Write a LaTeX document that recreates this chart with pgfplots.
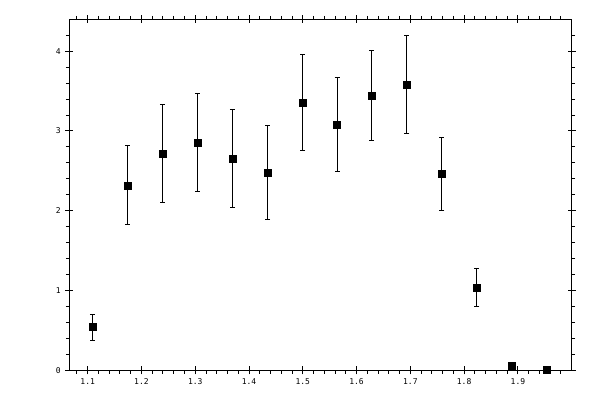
\documentclass[border=0pt]{standalone}
\usepackage{fontspec}
\setmainfont{DejaVu Sans Mono}
\usepackage{pgfplots}
\pgfplotsset{compat=1.18}
\pgfplotstableread{
x y ep em
1.1086 0.540 0.154 0.167
1.1738 2.317 0.502 0.489
1.2389 2.719 0.615 0.615
1.3041 2.857 0.615 0.611
1.3693 2.656 0.615 0.615
1.4345 2.481 0.593 0.586
1.4996 3.359 0.602 0.599
1.5640 3.083 0.589 0.590
1.6281 3.447 0.564 0.561
1.6933 3.585 0.606 0.615
1.7585 2.468 0.452 0.464
1.8236 1.038 0.238 0.239
1.8888 0.059 0 0
1.9540 0.004 0 0
}\datatab
\pgfplotsset{
  common/.style={
    at={(51.975pt,22.275pt)}, anchor=south west,
    scale only axis, width=376.8pt, height=263.25pt,
    xmin=1.0658, xmax=2.0, ymin=0, ymax=4.4,
    xtick={1.1,1.2,1.3,1.4,1.5,1.6,1.7,1.8,1.9},
    ytick={0,1,2,3,4},
    tick style={black, line width=0.75pt},
    axis line style={black, line width=0.75pt},
    major tick length=3pt,
    /pgf/number format/assume math mode=true,
    tick label style={font=\fontsize{6}{6}\selectfont},
    clip=false,
  }
}
\begin{document}
\begin{tikzpicture}
\path[use as bounding box] (0,0) rectangle (450pt,300pt);
\begin{axis}[common,
    tick align=outside,
    minor tick length=2.5pt,
    minor xtick={1.08,1.12,1.14,1.16,1.18,1.22,1.24,1.26,1.28,1.32,1.34,1.36,1.38,1.42,1.44,1.46,1.48,1.52,1.54,1.56,1.58,1.62,1.64,1.66,1.68,1.72,1.74,1.76,1.78,1.82,1.84,1.86,1.88,1.92,1.94,1.96,1.98},
    minor ytick={0.2,0.4,0.6,0.8,1.2,1.4,1.6,1.8,2.2,2.4,2.6,2.8,3.2,3.4,3.6,3.8,4.2},
    xticklabel pos=lower, yticklabel pos=left,
]
\addplot[only marks, mark=square*, mark size=2.6pt, black,
  error bars/.cd, y dir=both, y explicit,
  error mark options={rotate=90, black, mark size=1.9pt, line width=0.75pt},
  error bar style={black, line width=0.75pt}]
  table[x=x, y=y, y error plus=ep, y error minus=em] {\datatab};
\end{axis}
\begin{axis}[common,
    tick align=inside,
    xticklabels={}, yticklabels={},
    minor tick num=0,
]
\end{axis}
\end{tikzpicture}
\end{document}
